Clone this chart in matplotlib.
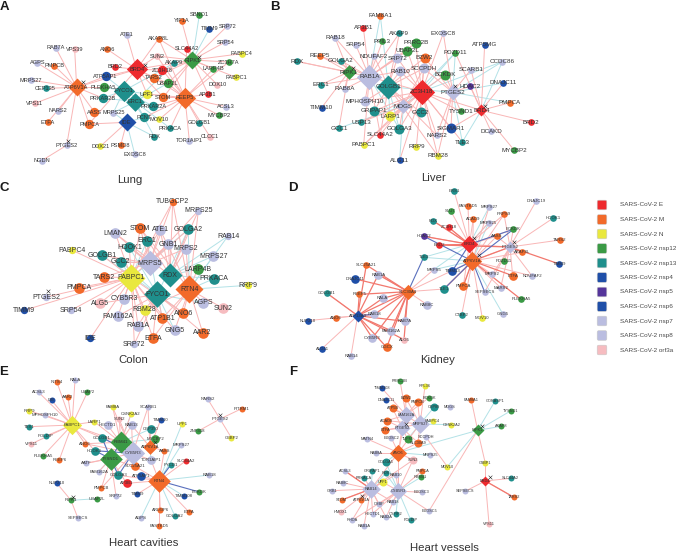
import matplotlib
matplotlib.use('Agg')  # run without UI window
import matplotlib.pyplot as plt
from matplotlib.patches import FancyBboxPatch

plt.rcParams['font.family'] = ['Liberation Sans', 'DejaVu Sans']

W, H = 676, 552

group_colors = {
    'E': '#ee2a2e', 'M': '#f26a2a', 'N': '#e9e83e', 'nsp12': '#3a9a45',
    'nsp13': '#1f8f8c', 'nsp4': '#1f4fa8', 'nsp5': '#55359b', 'nsp6': '#1f4fa8',
    'nsp7': '#babde0', 'nsp8': '#babde0', 'orf3a': '#f6bcc0',
}
legend_labels = ['SARS-CoV-2 E', 'SARS-CoV-2 M', 'SARS-CoV-2 N', 'SARS-CoV-2 nsp12',
                 'SARS-CoV-2 nsp13', 'SARS-CoV-2 nsp4', 'SARS-CoV-2 nsp5', 'SARS-CoV-2 nsp6',
                 'SARS-CoV-2 nsp7', 'SARS-CoV-2 nsp8', 'SARS-CoV-2 orf3a']
legend_groups = ['E', 'M', 'N', 'nsp12', 'nsp13', 'nsp4', 'nsp5', 'nsp6', 'nsp7', 'nsp8', 'orf3a']

# Network layouts: (name, x, y, group), hubs carry a weight too
lung_hubs = [('BRD4', 410, 208, 'E', 32), ('RIPK1', 577, 180, 'nsp12', 27), ('ATP6V1A', 230, 262, 'M', 27),
             ('REEP5', 555, 293, 'M', 32), ('FYCO1', 372, 272, 'nsp13', 32), ('ERC1', 405, 305, 'nsp13', 28),
             ('IDE', 380, 367, 'nsp4', 27)]
lung_nodes = [('SBNO1', 598, 45, 'nsp12'), ('YIF1A', 545, 63, 'M'), ('TIMM9', 628, 87, 'nsp4'), ('SRP72', 682, 78, 'nsp7'),
              ('SRP54', 676, 126, 'nsp7'), ('PABPC4', 725, 161, 'N'), ('ZC3H7A', 686, 186, 'nsp12'), ('LARP4B', 640, 207, 'nsp12'),
              ('DDX10', 652, 254, 'orf3a'), ('PABPC1', 708, 232, 'N'), ('AP3B1', 624, 282, 'E'), ('ACSL3', 678, 320, 'nsp7'),
              ('MYCBP2', 658, 346, 'nsp12'), ('CLCC1', 630, 410, 'orf3a'), ('TOR1AIP1', 568, 423, 'nsp7'), ('GOLGB1', 597, 368, 'nsp13'),
              ('PRKACA', 511, 385, 'nsp13'), ('RDX', 463, 410, 'nsp13'), ('MOV10', 478, 358, 'N'), ('PCNT', 433, 352, 'nsp13'),
              ('PRKAR2A', 460, 319, 'nsp13'), ('STOM', 490, 292, 'M'), ('UPF1', 441, 282, 'N'), ('UBAP2L', 503, 250, 'nsp12'),
              ('TARS2', 461, 233, 'M'), ('ZC3H18', 487, 210, 'E'), ('AKAP9', 523, 189, 'nsp13'), ('SLC44A2', 560, 146, 'E'),
              ('AKAP8L', 476, 116, 'M'), ('SUN2', 471, 168, 'orf3a'), ('ATE1', 380, 105, 'nsp7'), ('ANO6', 322, 148, 'M'),
              ('BRD2', 345, 201, 'E'), ('ATP5AP1', 317, 229, 'nsp4'), ('PLEKHA5', 311, 262, 'nsp12'), ('PRKAR2B', 308, 294, 'nsp13'),
              ('MRPS25', 340, 338, 'nsp7'), ('AASS', 283, 336, 'M'), ('PMPCA', 267, 372, 'M'), ('PTGES2', 200, 436, 'nsp7'),
              ('NGDN', 125, 482, 'nsp7'), ('DDX21', 301, 439, 'N'), ('PSMD8', 362, 436, 'M'), ('EXOSC8', 404, 462, 'nsp7'),
              ('ETFA', 143, 367, 'M'), ('NARS2', 175, 333, 'nsp7'), ('VPS11', 105, 310, 'orf3a'), ('CEP135', 137, 265, 'nsp13'),
              ('MRPS27', 92, 240, 'nsp7'), ('AGPS', 112, 189, 'nsp7'), ('PMPCB', 163, 197, 'M'), ('RAB7A', 167, 143, 'nsp7'),
              ('VPS39', 224, 148, 'orf3a')]
lung_big = ['ATP5AP1', 'PLEKHA5', 'PRKAR2B', 'UPF1', 'STOM', 'TARS2', 'PRKAR2A', 'PCNT', 'AASS', 'PMPCA', 'UBAP2L', 'ZC3H18']
lung_pink = {
    'ATP6V1A': ['RAB7A', 'VPS39', 'AGPS', 'PMPCB', 'MRPS27', 'CEP135', 'VPS11', 'NARS2', 'ETFA', 'AASS', 'PMPCA', 'PTGES2',
                'PLEKHA5', 'PRKAR2B', 'ATP5AP1', 'BRD4'],
    'PTGES2': ['NGDN'],
    'BRD4': ['ATE1', 'ANO6', 'AKAP8L', 'BRD2', 'ATP5AP1', 'SUN2', 'ZC3H18', 'TARS2', 'UPF1', 'STOM', 'UBAP2L', 'PMPCA', 'RIPK1'],
    'RIPK1': ['YIF1A', 'SLC44A2', 'SRP72', 'SRP54', 'PABPC4', 'ZC3H7A', 'LARP4B', 'DDX10', 'PABPC1', 'AP3B1', 'AKAP8L',
              'TARS2', 'ZC3H18', 'SUN2', 'STOM', 'UBAP2L'],
    'REEP5': ['AP3B1', 'ACSL3', 'MYCBP2', 'CLCC1', 'TOR1AIP1', 'GOLGB1', 'PRKACA', 'MOV10', 'PRKAR2A', 'UPF1', 'STOM',
              'UBAP2L', 'TARS2', 'ZC3H18', 'LARP4B', 'SLC44A2', 'AKAP8L', 'SUN2', 'ZC3H7A', 'PCNT'],
    'IDE': ['DDX21', 'PSMD8', 'PMPCA'],
}
lung_cyan = {
    'RIPK1': ['SBNO1', 'TIMM9', 'AKAP9'],
    'FYCO1': ['PLEKHA5', 'PRKAR2B', 'MRPS25', 'PCNT', 'UPF1', 'PRKAR2A', 'ATP5AP1', 'AKAP9'],
    'ERC1': ['PRKAR2B', 'MRPS25', 'PCNT', 'PRKAR2A', 'PRKACA', 'UBAP2L', 'AKAP9', 'RDX', 'UPF1'],
    'IDE': ['EXOSC8', 'RDX', 'PCNT', 'MRPS25'],
}
lung_ticks = [(435, 195), (598, 170), (248, 245), (205, 422)]

liver_hubs = [('RAB1A', 298, 230, 'nsp7', 38), ('GOLGB1', 355, 260, 'nsp13', 36), ('ZC3H18', 455, 275, 'E', 38),
              ('PTGES2', 548, 277, 'nsp7', 24), ('RIPK1', 236, 216, 'nsp12', 22), ('BRD4', 634, 331, 'E', 18),
              ('MOGS', 400, 318, 'nsp7', 22)]
liver_nodes = [('FAM8A1', 331, 47, 'M'), ('AP3B1', 280, 83, 'E'), ('AKAP9', 388, 100, 'nsp13'), ('EXOSC8', 520, 100, 'nsp7'),
               ('RAB18', 195, 113, 'nsp7'), ('SRP54', 257, 134, 'nsp7'), ('PPIL3', 337, 124, 'nsp12'), ('PRRC2B', 437, 129, 'nsp12'),
               ('ATP5MG', 644, 134, 'nsp4'), ('UBAP2L', 412, 152, 'nsp12'), ('PDZD11', 556, 158, 'nsp12'), ('REEP5', 150, 167, 'M'),
               ('NDUFAF2', 312, 168, 'nsp7'), ('SRP72', 382, 174, 'nsp7'), ('BZW2', 464, 173, 'M'), ('CCDC86', 697, 185, 'nsp7'),
               ('RDX', 80, 184, 'nsp13'), ('GOLGA2', 212, 182, 'nsp13'), ('SCCPDH', 461, 205, 'nsp7'), ('BCKDK', 526, 224, 'nsp12'),
               ('SCARB1', 603, 209, 'nsp7'), ('RAB10', 390, 214, 'nsp7'), ('ERC1', 153, 254, 'nsp13'), ('HDAC2', 600, 259, 'nsp5'),
               ('DNAJC11', 700, 249, 'nsp4'), ('RAB8A', 224, 267, 'nsp7'), ('MPHOSPH10', 285, 304, 'nsp7'), ('TIMM10', 155, 323, 'nsp4'),
               ('PMPCA', 720, 308, 'M'), ('GRIPAP1', 313, 332, 'nsp13'), ('LARP1', 360, 349, 'N'), ('GCC2', 452, 337, 'nsp13'),
               ('TYSND1', 572, 334, 'nsp12'), ('USP13', 274, 366, 'nsp13'), ('GCC1', 207, 384, 'nsp13'), ('GOLGA3', 388, 387, 'nsp13'),
               ('SIGMAR1', 543, 385, 'nsp4'), ('DCAKD', 663, 394, 'nsp7'), ('BRD2', 783, 367, 'E'), ('SLC44A2', 331, 404, 'E'),
               ('NARS2', 500, 406, 'nsp7'), ('TLE3', 577, 426, 'nsp13'), ('PABPC1', 281, 435, 'N'), ('RRP9', 439, 441, 'N'),
               ('RBM28', 503, 467, 'N'), ('ALG11', 389, 481, 'nsp4'), ('MYCBP2', 733, 451, 'nsp12')]
liver_big = ['RAB10', 'SRP72', 'SCCPDH', 'GRIPAP1', 'GCC2', 'MPHOSPH10', 'LARP1', 'SIGMAR1', 'GOLGA3', 'BCKDK', 'BZW2', 'UBAP2L', 'PRRC2B']
liver_pink = {
    'RAB1A': ['AP3B1', 'RAB18', 'SRP54', 'PPIL3', 'AKAP9', 'REEP5', 'RDX', 'NDUFAF2', 'SRP72', 'RAB8A', 'RAB10', 'ZC3H18', 'GOLGA2',
              'UBAP2L', 'PRRC2B', 'ERC1', 'MPHOSPH10', 'SLC44A2', 'PABPC1'],
    'RIPK1': ['RDX', 'REEP5', 'GOLGA2', 'ERC1', 'RAB18', 'TIMM10', 'GCC1', 'RAB8A'],
    'GOLGB1': ['NDUFAF2', 'SRP72', 'AKAP9', 'BZW2', 'RAB10', 'MPHOSPH10', 'GRIPAP1', 'SLC44A2', 'SCCPDH', 'GCC2', 'RBM28', 'NARS2'],
    'ZC3H18': ['EXOSC8', 'SRP72', 'PRRC2B', 'UBAP2L', 'BZW2', 'SCCPDH', 'RAB10', 'BCKDK', 'GCC2', 'NARS2', 'RBM28', 'RRP9', 'LARP1',
               'GOLGA3', 'TYSND1', 'SIGMAR1', 'GRIPAP1', 'MPHOSPH10', 'TLE3', 'ALG11', 'USP13', 'PABPC1', 'BRD4'],
    'PTGES2': ['EXOSC8', 'BZW2', 'SCCPDH', 'HDAC2', 'SCARB1', 'BCKDK', 'TYSND1', 'SIGMAR1', 'NARS2', 'RBM28'],
    'BRD4': ['BRD2', 'MYCBP2', 'PMPCA', 'DCAKD', 'SCARB1', 'ATP5MG', 'HDAC2', 'DNAJC11', 'SIGMAR1', 'PDZD11'],
    'MOGS': ['PABPC1', 'GOLGA3', 'SCCPDH', 'USP13', 'SLC44A2', 'RAB10'],
}
liver_cyan = {
    'RAB1A': ['FAM8A1', 'GOLGA3'],
    'GOLGB1': ['FAM8A1', 'GOLGA3', 'LARP1', 'PTGES2'],
    'ZC3H18': ['CCDC86', 'PDZD11'],
    'PTGES2': ['CCDC86', 'PDZD11', 'DNAJC11', 'PMPCA', 'TLE3'],
    'BRD4': ['TLE3', 'CCDC86'],
    'MOGS': ['PDZD11', 'GCC1', 'BCKDK', 'ALG11'],
}
liver_ticks = [(250, 203), (555, 257), (645, 318)]

colon_hubs = [('MRPS5', 449, 265, 'nsp7', 38), ('RDX', 510, 301, 'nsp13', 36), ('PABPC1', 394, 308, 'N', 42),
              ('RTN4', 568, 343, 'M', 42), ('FYCO1', 472, 358, 'nsp13', 40)]
colon_nodes = [('TUBGCP2', 518, 80, 'M'), ('MRPS25', 595, 107, 'nsp7'), ('LMAN2', 346, 175, 'nsp7'), ('STOM', 421, 160, 'M'),
               ('ATE1', 480, 164, 'nsp7'), ('GOLGA2', 565, 163, 'nsp13'), ('RAB14', 684, 183, 'nsp7'), ('ERC1', 441, 197, 'nsp13'),
               ('GNB1', 505, 207, 'nsp7'), ('HOOK1', 388, 217, 'nsp13'), ('MRPS2', 558, 221, 'nsp7'), ('PABPC4', 217, 226, 'N'),
               ('GOLGB1', 306, 241, 'nsp13'), ('MRPS27', 640, 243, 'nsp7'), ('GCC2', 362, 260, 'nsp13'), ('LARP4B', 593, 282, 'nsp12'),
               ('TARS2', 311, 306, 'M'), ('PRKACA', 642, 311, 'nsp13'), ('RRP9', 743, 331, 'N'), ('PMPCA', 237, 338, 'M'),
               ('PTGES2', 138, 366, 'nsp7'), ('CYB5R3', 372, 371, 'nsp7'), ('AGPS', 610, 383, 'nsp7'), ('ALG5', 300, 385, 'orf3a'),
               ('SUN2', 670, 400, 'orf3a'), ('TIMM9', 72, 406, 'nsp4'), ('SRP54', 213, 406, 'nsp7'), ('RBM28', 434, 404, 'N'),
               ('FAM162A', 354, 423, 'nsp7'), ('ATP1B1', 487, 430, 'M'), ('ANO6', 550, 414, 'M'), ('RAB1A', 414, 452, 'nsp7'),
               ('GNG5', 524, 466, 'nsp7'), ('AAR2', 608, 473, 'M'), ('ETFA', 459, 489, 'M'), ('IDE', 271, 490, 'nsp4'),
               ('SRP72', 403, 507, 'nsp7')]
colon_big = ['STOM', 'ATE1', 'GOLGA2', 'ERC1', 'GNB1', 'HOOK1', 'MRPS2', 'GOLGB1', 'GCC2', 'LARP4B', 'TARS2', 'PRKACA', 'PMPCA',
             'CYB5R3', 'AGPS', 'ALG5', 'RBM28', 'FAM162A', 'ATP1B1', 'ANO6', 'RAB1A', 'GNG5', 'AAR2', 'ETFA', 'LMAN2', 'SUN2', 'MRPS27']
colon_pink = {
    'MRPS5': ['TUBGCP2', 'MRPS25', 'LMAN2', 'STOM', 'ATE1', 'GNB1', 'HOOK1', 'ERC1', 'MRPS2', 'GOLGA2', 'GOLGB1', 'GCC2', 'TARS2'],
    'PABPC1': ['PABPC4', 'GOLGB1', 'TARS2', 'PMPCA', 'PTGES2', 'SRP54', 'ALG5', 'IDE', 'CYB5R3', 'FAM162A', 'RBM28', 'SRP72',
               'RAB1A', 'ETFA', 'ATP1B1', 'ANO6', 'STOM', 'LMAN2', 'HOOK1', 'ATE1', 'GNB1', 'TUBGCP2', 'GNG5', 'TIMM9'],
    'RTN4': ['AGPS', 'SUN2', 'AAR2', 'ANO6', 'GNG5', 'ETFA', 'ATP1B1', 'MRPS2', 'MRPS25', 'TUBGCP2', 'ATE1', 'STOM', 'LARP4B', 'RBM28'],
    'RDX': ['ATE1', 'STOM', 'GNB1', 'MRPS2', 'MRPS25', 'LMAN2', 'TUBGCP2', 'GOLGA2'],
    'FYCO1': ['SRP72', 'ETFA', 'ATP1B1', 'ANO6', 'AAR2', 'RAB1A', 'RBM28', 'FAM162A', 'ALG5'],
}
colon_cyan = {
    'RDX': ['RAB14', 'MRPS27', 'LARP4B', 'PRKACA', 'GOLGA2'],
    'RTN4': ['RRP9', 'PRKACA', 'MRPS27', 'RAB14', 'GOLGA2'],
    'MRPS5': ['ERC1', 'HOOK1', 'GCC2'],
    'FYCO1': ['GNG5', 'ANO6', 'AGPS', 'ATP1B1', 'HOOK1', 'GOLGB1', 'GCC2', 'GOLGA2', 'ERC1'],
    'PABPC1': ['ERC1', 'GCC2', 'GOLGA2'],
}
colon_ticks = [(143, 348)]

kidney_hubs = [('BRD4', 538, 208, 'E', 26), ('ATP6V1A', 547, 258, 'M', 29), ('SLC30A9', 354, 350, 'M', 23),
               ('ATP13A3', 203, 422, 'nsp4', 18), ('PTGES2', 660, 216, 'nsp7', 18)]
kidney_nodes = [('ERS1', 492, 47, 'nsp13'), ('FASTKD5', 534, 92, 'M'), ('MRPS27', 597, 97, 'nsp7'), ('DNAJC19', 738, 79, 'nsp7'),
                ('SLU7', 482, 108, 'nsp12'), ('PRPS9', 642, 118, 'M'), ('ACAD9', 550, 131, 'M'), ('MRPS25', 596, 143, 'nsp7'),
                ('RDX', 430, 138, 'nsp13'), ('ZC3H18', 476, 157, 'E'), ('BCKDK', 670, 163, 'nsp12'), ('HOOK1', 790, 129, 'nsp13'),
                ('HDAC2', 402, 184, 'nsp5'), ('AASS', 620, 184, 'M'), ('BRD2', 447, 210, 'E'), ('TARS2', 810, 195, 'M'),
                ('AKAP8L', 697, 232, 'M'), ('TLE3', 401, 247, 'nsp13'), ('PDZD11', 642, 258, 'nsp12'), ('TIMM9', 808, 267, 'nsp4'),
                ('SLC25A21', 229, 270, 'M'), ('MRPS5', 431, 284, 'nsp7'), ('TIMM13', 487, 288, 'nsp4'), ('RAB1A', 265, 299, 'nsp7'),
                ('ETFA', 668, 302, 'M'), ('NDUFAF2', 726, 303, 'nsp7'), ('MRPS2', 607, 298, 'nsp7'), ('DNAJC11', 196, 312, 'nsp4'),
                ('MARS2', 632, 338, 'nsp7'), ('TLE1', 462, 342, 'nsp13'), ('PMPCA', 520, 333, 'M'), ('SEPSECS', 584, 351, 'nsp7'),
                ('REEP5', 208, 358, 'M'), ('GOLGB1', 110, 354, 'nsp13'), ('RALA', 278, 370, 'nsp7'), ('PLEKHA5', 693, 373, 'nsp12'),
                ('RAB8C', 411, 389, 'nsp7'), ('RAB18', 253, 418, 'nsp7'), ('GNG5', 638, 416, 'nsp7'), ('CTBP2', 515, 420, 'nsp13'),
                ('MOV10', 577, 430, 'N'), ('ANO6', 139, 428, 'M'), ('NUP210', 53, 437, 'nsp4'), ('RAB7A', 344, 439, 'nsp7'),
                ('FAM162A', 303, 467, 'nsp7'), ('CYB5R3', 247, 489, 'nsp7'), ('ALG5', 342, 494, 'orf3a'), ('GGCX', 290, 517, 'M'),
                ('ALG11', 96, 521, 'nsp4'), ('RAB14', 183, 543, 'nsp7')]
kidney_big = ['RAB18', 'RALA', 'RAB1A', 'FAM162A', 'CYB5R3', 'GGCX', 'RAB7A', 'PMPCA', 'TIMM13', 'DNAJC11', 'RAB8C', 'ETFA', 'TLE1']
kidney_pink = {
    'BRD4': ['ERS1', 'FASTKD5', 'SLU7', 'ACAD9', 'RDX', 'ZC3H18', 'HDAC2', 'BRD2', 'BCKDK', 'PRPS9', 'MRPS25', 'AASS', 'PMPCA'],
    'ATP6V1A': ['ACAD9', 'PRPS9', 'AASS', 'AKAP8L', 'NDUFAF2', 'MARS2', 'MRPS2', 'PMPCA', 'CTBP2', 'MOV10', 'SLC30A9', 'MRPS27'],
    'PTGES2': ['DNAJC19', 'HOOK1', 'TARS2', 'PRPS9', 'BCKDK', 'AASS', 'PDZD11', 'ETFA', 'NDUFAF2', 'MARS2', 'MRPS2', 'SEPSECS', 'BRD4', 'ATP6V1A'],
    'SLC30A9': ['RAB1A', 'RAB8C', 'TLE1', 'MRPS5'],
    'ATP13A3': ['NUP210', 'ANO6', 'ALG11', 'RAB14', 'GOLGB1'],
}
kidney_cyan = {
    'BRD4': ['MRPS27', 'MRPS25', 'TLE3', 'MRPS5'],
    'ATP6V1A': ['GNG5', 'MRPS25', 'MRPS5', 'TIMM13', 'TLE3'],
    'SLC30A9': ['RAB7A'],
}
kidney_strong = {
    'SLC30A9': ['SLC25A21', 'RAB1A', 'DNAJC11', 'REEP5', 'RALA', 'RAB18', 'RAB7A', 'FAM162A', 'CYB5R3', 'ALG5', 'GGCX', 'ATP13A3'],
    'ATP13A3': ['SLC25A21', 'RAB1A', 'REEP5', 'RALA', 'RAB18', 'RAB7A', 'FAM162A', 'CYB5R3', 'ALG5', 'GGCX', 'GOLGB1'],
    'ATP6V1A': ['PLEKHA5', 'ETFA', 'BRD4', 'PTGES2', 'TLE1', 'PMPCA'],
    'PTGES2': ['TIMM9', 'AKAP8L', 'BRD2'],
    'BRD4': ['BRD2', 'ZC3H18', 'HDAC2', 'RDX'],
}
kidney_blue = {
    'SLC30A9': ['TLE3'],
    'ATP13A3': ['RAB18'],
    'ATP6V1A': ['SEPSECS', 'TIMM13', 'TLE1', 'BCKDK', 'HDAC2'],
    'BRD4': ['TIMM13', 'BCKDK'],
}
kidney_ticks = [(553, 190), (566, 241), (672, 200)]

cavity_hubs = [('PABPC1', 216, 180, 'N', 29), ('RBM41', 362, 232, 'nsp12', 33), ('TYSND1', 332, 281, 'nsp12', 34),
               ('CYB5R3', 398, 265, 'nsp7', 35), ('ATP6V1A', 450, 246, 'M', 22), ('RTN4', 477, 347, 'M', 34)]
cavity_nodes = [('INTS4', 171, 52, 'M'), ('RALA', 225, 46, 'nsp7'), ('ACSL3', 116, 82, 'nsp7'), ('AAR2', 204, 96, 'M'),
                ('UBAP2', 262, 82, 'nsp12'), ('IDE', 155, 106, 'nsp4'), ('RRP9', 88, 137, 'N'), ('MPHOSPH10', 135, 150, 'nsp7'),
                ('TEX1', 88, 185, 'nsp13'), ('POLDIP', 138, 213, 'nsp13'), ('VPS11', 93, 237, 'orf3a'), ('PLEKHA5', 130, 272, 'nsp12'),
                ('REEP6', 178, 284, 'M'), ('ANO6', 255, 236, 'M'), ('FAM8A', 338, 127, 'N'), ('SUN2', 358, 163, 'orf3a'),
                ('CSNK2A2', 393, 148, 'N'), ('SCARB1', 444, 127, 'nsp7'), ('LARP1', 283, 170, 'N'), ('HECTD1', 323, 181, 'nsp7'),
                ('RAB13', 395, 181, 'nsp7'), ('TIMM10', 482, 165, 'nsp4'), ('CEP350', 453, 191, 'nsp13'), ('UPF1', 546, 177, 'N'),
                ('GOLGB1', 306, 218, 'nsp13'), ('MYCBP2', 466, 223, 'nsp12'), ('HOOK1', 284, 257, 'nsp13'), ('AASS', 493, 257, 'M'),
                ('MRPS27', 543, 241, 'nsp7'), ('AATF', 258, 295, 'nsp7'), ('SLC25A21', 405, 304, 'M'), ('TOR1AIP1', 453, 285, 'nsp7'),
                ('PYCD1', 512, 300, 'nsp13'), ('SLC44A2', 557, 288, 'E'), ('FAM162A', 296, 320, 'nsp7'), ('GOLGA3', 355, 331, 'nsp13'),
                ('ATP5AP1', 423, 333, 'nsp4'), ('RAB18', 628, 330, 'nsp7'), ('AP3B1', 380, 355, 'E'), ('PMPCB', 304, 370, 'M'),
                ('SRP72', 348, 393, 'nsp7'), ('TIMM9', 412, 387, 'nsp4'), ('BCKDK', 598, 381, 'nsp12'), ('TIMM108', 553, 394, 'nsp4'),
                ('ARL6IP6', 481, 435, 'M'), ('ETFA', 568, 442, 'M'), ('GOLGA2', 525, 454, 'nsp13'), ('AGPS', 423, 458, 'nsp7'),
                ('FASTKD5', 477, 484, 'M'), ('NUP210', 170, 354, 'nsp4'), ('RIPK1', 213, 406, 'nsp12'), ('UBAP2L', 292, 401, 'nsp12'),
                ('SEPSECS', 234, 460, 'nsp7'), ('NARS2', 623, 102, 'nsp7'), ('PTGES2', 660, 162, 'nsp7'), ('PITRM1', 725, 131, 'M'),
                ('ZNF318', 593, 199, 'nsp12'), ('G3BP2', 694, 218, 'N')]
cavity_big = ['GOLGB1', 'HOOK1', 'GOLGA3', 'ATP5AP1', 'AP3B1', 'MYCBP2', 'TOR1AIP1', 'SLC25A21', 'HECTD1', 'CEP350', 'RAB13']
cavity_pink = {
    'PABPC1': ['INTS4', 'RALA', 'ACSL3', 'AAR2', 'UBAP2', 'IDE', 'RRP9', 'MPHOSPH10', 'TEX1', 'POLDIP', 'VPS11', 'PLEKHA5',
               'REEP6', 'ANO6', 'LARP1', 'GOLGB1', 'RBM41', 'HOOK1'],
    'RBM41': ['FAM8A', 'SUN2', 'LARP1', 'HECTD1', 'ANO6', 'RAB13', 'GOLGB1', 'CSNK2A2'],
    'CYB5R3': ['SCARB1', 'SUN2', 'RAB13', 'GOLGB1', 'SLC25A21', 'TOR1AIP1', 'AATF', 'PMPCB', 'ANO6', 'FAM8A'],
    'RTN4': ['SLC25A21', 'TOR1AIP1', 'AP3B1', 'ATP5AP1', 'TIMM9', 'ARL6IP6', 'ETFA', 'FASTKD5', 'AASS', 'GOLGA3', 'SLC44A2'],
    'ATP6V1A': ['TIMM10', 'SCARB1', 'RAB13', 'AASS', 'CEP350'],
    'TYSND1': ['SRP72', 'FAM162A', 'AATF', 'PMPCB', 'AP3B1', 'SLC25A21'],
    'RIPK1': ['NUP210', 'SEPSECS'],
    'PTGES2': ['NARS2', 'PITRM1', 'ZNF318', 'G3BP2'],
}
cavity_cyan = {
    'RTN4': ['RAB18', 'TIMM108', 'GOLGA2', 'AGPS', 'PYCD1', 'MRPS27', 'UPF1'],
    'RBM41': ['CEP350', 'CSNK2A2', 'MYCBP2'],
    'RIPK1': ['UBAP2L'],
    'TYSND1': ['GOLGA3', 'FAM162A'],
    'ATP6V1A': ['MYCBP2', 'TOR1AIP1'],
}
cavity_blue = {
    'RTN4': ['BCKDK', 'PYCD1'],
    'TYSND1': ['HOOK1', 'GOLGB1', 'GOLGA3', 'RBM41'],
    'CYB5R3': ['HOOK1', 'GOLGB1', 'GOLGA3'],
}
cavity_ticks = [(466, 232), (218, 395), (660, 150)]

vessel_hubs = [('FAM162A', 348, 150, 'nsp7', 26), ('MRPS27', 390, 177, 'nsp7', 28), ('PTGES2', 336, 189, 'nsp7', 24),
               ('ANO6', 325, 263, 'M', 26), ('RAB14', 243, 372, 'nsp7', 28), ('CYB5R3', 325, 378, 'nsp7', 26),
               ('RIPK1', 563, 196, 'nsp12', 18), ('BRD4', 586, 348, 'E', 15)]
vessel_nodes = [('PRRC2B', 330, 47, 'nsp12'), ('RPL36', 405, 63, 'N'), ('TIMM108', 275, 69, 'nsp4'), ('DNAJC11', 288, 105, 'nsp4'),
                ('BZW2', 347, 98, 'M'), ('PMPCB', 383, 112, 'M'), ('BCKDK', 417, 98, 'nsp12'), ('ATP5B', 308, 130, 'M'),
                ('CEP89', 432, 127, 'nsp13'), ('MOGS', 479, 127, 'nsp7'), ('FAM8A1', 544, 105, 'M'), ('GORASP1', 616, 107, 'nsp13'),
                ('TYSND1', 663, 137, 'nsp12'), ('ACAD9', 290, 167, 'M'), ('PABPC4', 428, 167, 'N'), ('CSNK2A2', 484, 179, 'N'),
                ('AKAP8', 633, 184, 'nsp12'), ('ETFA', 286, 195, 'M'), ('EXOSC2', 304, 219, 'nsp7'), ('TUFM', 353, 222, 'nsp12'),
                ('SCCPDH', 407, 215, 'nsp7'), ('MATN4', 232, 222, 'nsp7'), ('SLC30A9', 384, 233, 'M'), ('RAB8A', 258, 263, 'nsp7'),
                ('MRPS25', 421, 271, 'nsp7'), ('GOLGA5', 287, 291, 'nsp13'), ('SUN2', 369, 285, 'orf3a'), ('MOV10', 472, 305, 'N'),
                ('G3BP1', 586, 295, 'N'), ('PMPCA', 397, 317, 'M'), ('GRIPAP1', 247, 319, 'nsp13'), ('ACSL3', 165, 318, 'nsp7'),
                ('RDX', 287, 325, 'nsp13'), ('RAB10', 318, 329, 'nsp7'), ('PRKACA', 222, 338, 'nsp13'), ('RBM41', 392, 337, 'nsp12'),
                ('UPF1', 278, 351, 'N'), ('RAB8C', 158, 353, 'nsp7'), ('GRB1', 126, 377, 'nsp7'), ('STOM', 155, 405, 'M'),
                ('ATP6V1A', 213, 404, 'M'), ('EXOSC3', 396, 382, 'nsp7'), ('OSBP', 267, 418, 'nsp7'), ('RAB18', 309, 411, 'nsp7'),
                ('HMOX1', 153, 441, 'orf3a'), ('HECTD1', 248, 446, 'nsp7'), ('CYFIP2', 318, 447, 'nsp13'), ('RAB2A', 288, 457, 'nsp7'),
                ('EXOSC5', 417, 438, 'nsp7'), ('RHOA', 186, 466, 'nsp7'), ('POLDIP', 362, 464, 'nsp13'), ('RAB1A', 222, 482, 'nsp7'),
                ('SEPSECS', 525, 379, 'nsp7'), ('VPS11', 597, 476, 'orf3a'), ('TARS2', 672, 397, 'M'), ('SLC44A2', 662, 340, 'nsp13')]
vessel_big = ['ACAD9', 'ETFA', 'SLC30A9', 'GOLGA5', 'BZW2', 'PMPCB', 'ATP5B', 'TUFM', 'UPF1', 'SUN2', 'CEP89']
vessel_pink = {
    'FAM162A': ['PRRC2B', 'BZW2', 'ATP5B', 'PMPCB', 'BCKDK', 'ACAD9', 'TIMM108'],
    'MRPS27': ['BZW2', 'PMPCB', 'ATP5B', 'RPL36', 'SLC30A9', 'ACAD9', 'ETFA'],
    'PTGES2': ['ATP5B', 'ACAD9', 'ETFA', 'SLC30A9', 'TUFM', 'ANO6'],
    'ANO6': ['MATN4', 'RAB8A', 'SLC30A9', 'SUN2', 'FAM162A', 'MRPS27', 'RAB14', 'CYB5R3', 'EXOSC2'],
    'RAB14': ['ACSL3', 'RAB8C', 'GRB1', 'STOM', 'ATP6V1A', 'HMOX1', 'HECTD1', 'RHOA', 'RAB1A', 'OSBP', 'RAB2A', 'RAB18', 'PRKACA', 'UPF1', 'RAB10', 'SUN2'],
    'CYB5R3': ['SUN2', 'PMPCA', 'RAB18', 'RAB2A', 'OSBP', 'EXOSC3', 'RAB10', 'UPF1', 'HECTD1', 'RHOA', 'EXOSC5'],
    'RIPK1': ['FAM8A1', 'G3BP1', 'EXOSC5'],
    'BRD4': ['G3BP1', 'SEPSECS', 'VPS11', 'SLC44A2', 'TARS2'],
    'SCCPDH': ['MOV10'],
}
vessel_cyan = {
    'RIPK1': ['GORASP1', 'TYSND1', 'AKAP8', 'MOV10', 'ANO6'],
    'MRPS27': ['PABPC4', 'CEP89', 'CSNK2A2', 'TUFM'],
    'ANO6': ['MRPS25', 'GOLGA5'],
    'RAB14': ['GRIPAP1', 'RDX', 'ATP6V1A'],
    'CYB5R3': ['CYFIP2', 'POLDIP', 'RBM41', 'RDX', 'GOLGA5'],
}
vessel_strong = {'BRD4': ['TARS2'], 'RAB14': ['ACSL3', 'STOM']}
vessel_ticks = [(575, 183), (600, 335), (348, 178), (216, 392)]

panel_titles = [('Lung', 130, 180), ('Liver', 433, 178), ('Colon', 133, 360),
                ('Kidney', 438, 360), ('Heart cavities', 144, 543), ('Heart vessels', 444, 548)]
panel_letters = [('A', 4, 7), ('B', 275, 7), ('C', 4, 188), ('D', 293, 188), ('E', 4, 372), ('F', 293, 372)]


def draw_edges(ax, pos, edges, color, lw):
    for hub, others in edges.items():
        for other in others:
            x0, y0 = pos[hub]
            x1, y1 = pos[other]
            ax.plot([x0, x1], [y0, y1], color=color, lw=lw, zorder=1, solid_capstyle='round', clip_on=False)


def draw_panel(crop, hubs, nodes, big, pink, cyan, strong, blue, ticks, fs, radii):
    # crop is in image pixels, node positions are in 3x crop coordinates
    cx, cy, cw, ch = crop
    ax = fig.add_axes([cx / W, 1 - (cy + ch) / H, cw / W, ch / H])
    ax.set_xlim(0, cw * 3)
    ax.set_ylim(ch * 3, 0)
    ax.axis('off')
    ax.patch.set_alpha(0)

    pos = {n[0]: (n[1], n[2]) for n in hubs + nodes}
    draw_edges(ax, pos, cyan, '#b3e2e7', 0.7)
    draw_edges(ax, pos, pink, '#f9b6b6', 0.7)
    draw_edges(ax, pos, strong, '#f2786e', 0.9)
    draw_edges(ax, pos, blue, '#5a70bd', 0.8)

    for name, x, y, group in nodes:
        r = radii[1] if name in big else radii[0]
        size = (1.44 * r / 3) ** 2
        ax.scatter(x, y, s=size, c=group_colors[group], marker='o', linewidths=0, zorder=2, clip_on=False)
        ax.text(x, y, name, fontsize=fs, color='#333333', ha='center', va='center', zorder=4)
    for name, x, y, group, half in hubs:
        size = (1.018 * half / 3) ** 2
        ax.scatter(x, y, s=size, c=group_colors[group], marker='D', linewidths=0, zorder=3, clip_on=False)
        ax.text(x, y, name, fontsize=fs, color='#333333', ha='center', va='center', zorder=4)
    for x, y in ticks:
        ax.scatter(x, y, s=7, c='#222222', marker='x', linewidths=0.4, zorder=5, clip_on=False)


fig = plt.figure(figsize=(W / 100, H / 100), dpi=100)

draw_panel((0, 0, 270, 175), lung_hubs, lung_nodes, lung_big, lung_pink, lung_cyan, {}, {}, lung_ticks, 4.1, (10, 14))
draw_panel((270, 0, 270, 175), liver_hubs, liver_nodes, liver_big, liver_pink, liver_cyan, {}, {}, liver_ticks, 4.5, (10, 15))
draw_panel((0, 175, 270, 190), colon_hubs, colon_nodes, colon_big, colon_pink, colon_cyan, {}, {}, colon_ticks, 5.0, (11, 16))
draw_panel((290, 175, 270, 190), kidney_hubs, kidney_nodes, kidney_big, kidney_pink, kidney_cyan, kidney_strong, kidney_blue, kidney_ticks, 3.1, (10, 13))
draw_panel((0, 365, 260, 187), cavity_hubs, cavity_nodes, cavity_big, cavity_pink, cavity_cyan, {}, cavity_blue, cavity_ticks, 3.1, (9, 13))
draw_panel((290, 365, 260, 187), vessel_hubs, vessel_nodes, vessel_big, vessel_pink, vessel_cyan, vessel_strong, {}, vessel_ticks, 2.8, (9, 12))

# overlay in image pixels for titles, letters and legend
top = fig.add_axes([0, 0, 1, 1])
top.set_xlim(0, W)
top.set_ylim(H, 0)
top.axis('off')
top.patch.set_alpha(0)

for title, x, y in panel_titles:
    top.text(x, y, title, fontsize=8.2, color='#333333', ha='center', va='center')
for letter, x, y in panel_letters:
    top.text(x, y, letter, fontsize=9.5, fontweight='bold', color='#1a1a1a', ha='center', va='center')

for i, (label, group) in enumerate(zip(legend_labels, legend_groups)):
    y = 205 + i * 14.5
    top.add_patch(FancyBboxPatch((598, y - 4), 8, 8, boxstyle='round,pad=0.8,rounding_size=1.5',
                                 facecolor=group_colors[group], edgecolor='#c8c8c8', lw=0.4))
    top.text(619.5, y, label, fontsize=4.6, color='#4a4a4a', ha='left', va='center')

fig.savefig('out.png', dpi=100)
plt.close(fig)
